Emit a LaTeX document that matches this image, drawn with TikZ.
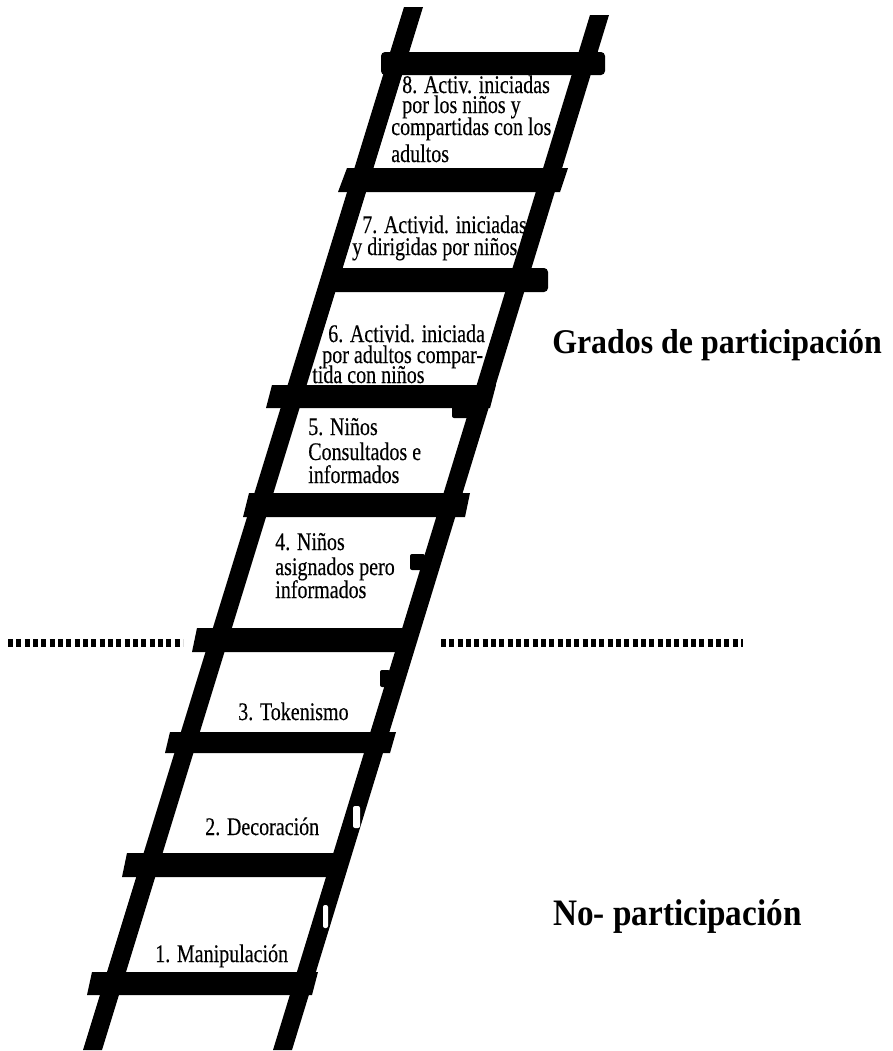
\documentclass[tikz,border=0pt]{standalone}
\usepackage{fontspec}
\setmainfont{Liberation Serif}
\newfontfamily\labfont[FakeStretch=0.79,FakeBold=0.3]{Liberation Serif}
\newfontfamily\titfont[FakeStretch=0.92]{Liberation Serif}
\newfontfamily\titfontb[FakeStretch=0.89]{Liberation Serif}
\begin{document}
\begin{tikzpicture}[x=0.75pt,y=-0.75pt,
  rung/.style={fill=black},
  rail/.style={fill=black},
  notch/.style={fill=black,rounded corners=1.5pt},
  gap/.style={fill=white,rounded corners=1.5pt},
  lab/.style={anchor=base west,inner sep=0pt,font={\labfont\fontsize{19}{19}\selectfont}},
  tit/.style={anchor=base west,inner sep=0pt,font={\titfont\bfseries\fontsize{26}{26}\selectfont}},
  titb/.style={anchor=base west,inner sep=0pt,font={\titfontb\bfseries\fontsize{28}{28}\selectfont}},
  dots/.style={line width=6pt,dash pattern=on 3.75pt off 2.5pt}]
\useasboundingbox (0,0) rectangle (893,1051);
% labels
\node[lab] (l8a) at (402,93) {8. Activ. iniciadas};
\node[lab] (l8b) at (402,113) {por los niños y};
\node[lab] (l8c) at (391,135) {compartidas con los};
\node[lab] (l8d) at (391,162) {adultos};
\node[lab] (l7a) at (362,233) {7. Activid. iniciadas};
\node[lab] (l7b) at (352,255) {y dirigidas por niños};
\node[lab] (l6a) at (328,342) {6. Activid. iniciada};
\node[lab] (l6b) at (322,363) {por adultos compar-};
\node[lab] (l6c) at (312,383) {tida con niños};
\node[lab] (l5a) at (308,435) {5. Niños};
\node[lab] (l5b) at (308,460) {Consultados e};
\node[lab] (l5c) at (308,483) {informados};
\node[lab] (l4a) at (275,550) {4. Niños};
\node[lab] (l4b) at (275,575) {asignados pero};
\node[lab] (l4c) at (275,598) {informados};
\node[lab] (l3) at (238,720) {3. Tokenismo};
\node[lab] (l2) at (205,835) {2. Decoración};
\node[lab] (l1) at (155,962) {1. Manipulación};
% rails
\fill[rail] (404,7) -- (423,7) -- (102,1050) -- (83,1050) -- cycle;
\fill[rail] (590,15) -- (609,15) -- (292,1050) -- (273,1050) -- cycle;
% rungs
\fill[rung,rounded corners=3pt] (381,52) rectangle (605,75);
\fill[rung] (347,168) -- (568,168) -- (560,192) -- (338,192) -- cycle;
\fill[rung,rounded corners=3pt] (323,268) rectangle (548,292);
\fill[rung] (272,385) -- (496,385) -- (490,408) -- (266,408) -- cycle;
\fill[rung] (249,493) -- (470,493) -- (465,517) -- (243,517) -- cycle;
\fill[rung] (197,628) -- (413,628) -- (405,652) -- (192,652) -- cycle;
\fill[rung] (170,732) -- (396,732) -- (390,753) -- (165,753) -- cycle;
\fill[rung] (127,853) -- (349,853) -- (342,877) -- (122,877) -- cycle;
\fill[rung] (92,972) -- (318,972) -- (312,995) -- (87,995) -- cycle;
% small notches
\fill[notch] (452,404) rectangle (471,418);
\fill[notch] (410,554) rectangle (425,570);
\fill[notch] (380,670) rectangle (390,687);
\fill[gap] (353,806) rectangle (360,828);
\fill[gap] (323,905) rectangle (328,928);
% dividing dotted line
\draw[dots] (8,642.5) -- (183,642.5);
\draw[dots] (441,642.5) -- (743,642.5);
% titles
\node[tit] (gp) at (552,353) {Grados de participación};
\node[titb] (np) at (553,925) {No- participación};
\end{tikzpicture}
\end{document}
